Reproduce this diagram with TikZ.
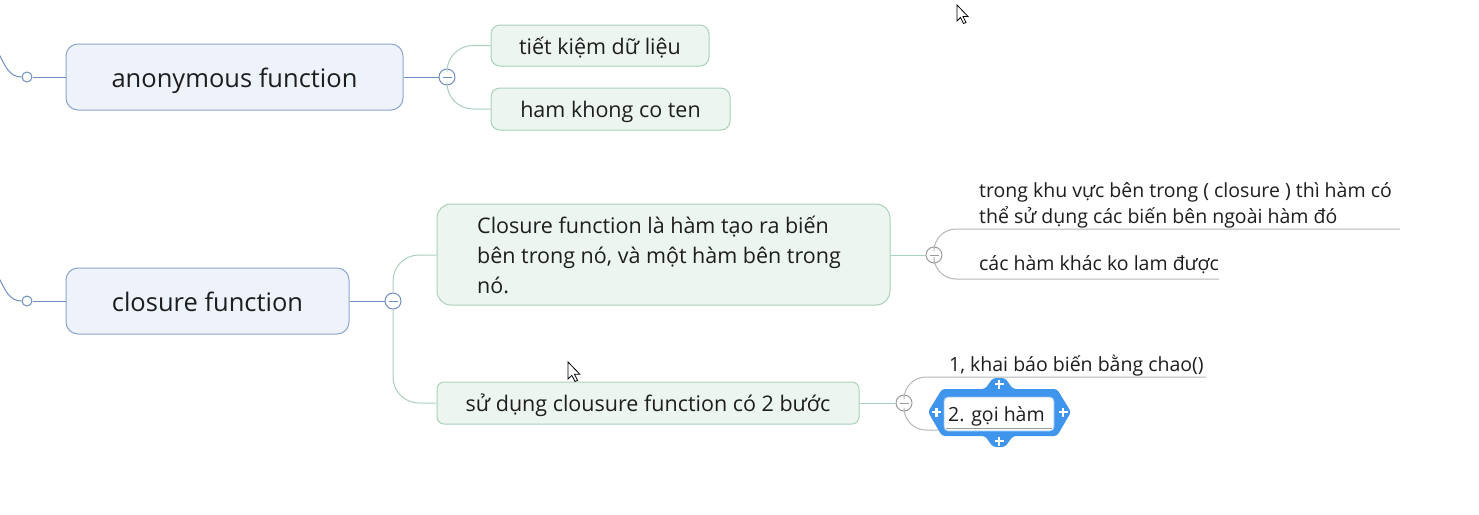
\documentclass[tikz,border=0pt]{standalone}
\usepackage{fontspec}
\setmainfont{Open Sans}
\definecolor{mainB}{HTML}{8EA6CC}
\definecolor{mainF}{HTML}{EEF3FB}
\definecolor{mainL}{HTML}{6F8EC0}
\definecolor{subB}{HTML}{A9D1BB}
\definecolor{subF}{HTML}{ECF5EF}
\definecolor{txt}{HTML}{1E1E1E}
\definecolor{grayL}{HTML}{B4B8B6}
\definecolor{grayU}{HTML}{9A9C9B}
\definecolor{selB}{HTML}{3F95EC}
\begin{document}
\begin{tikzpicture}[x=1pt,y=-1pt,
  mainbox/.style={draw=mainB, fill=mainF, line width=1pt, rounded corners=12pt, inner sep=0pt, text=txt, font=\fontsize{25.5}{30}\selectfont, text height=21.5pt, text depth=0pt},
  subbox/.style={draw=subB, fill=subF, line width=1pt, rounded corners=9pt, inner sep=0pt, text=txt, font=\fontsize{21.5}{26}\selectfont, text height=17.5pt, text depth=0pt},
  plain/.style={inner sep=0pt, text=txt, font=\fontsize{19.5}{26}\selectfont, align=left},
  collapse/.style={circle, draw=#1, fill=white, line width=1pt, minimum size=16pt, inner sep=0pt,
    path picture={\draw[#1, line width=1pt] ([xshift=-4.5pt]path picture bounding box.center) -- ([xshift=4.5pt]path picture bounding box.center);}},
  dot/.style={circle, draw=mainL, fill=white, line width=1pt, minimum size=10pt, inner sep=0pt},
  bluel/.style={draw=mainL, line width=1pt},
  greenl/.style={draw=subB, line width=1pt, rounded corners=26pt},
  grayl/.style={draw=grayL, line width=1pt, rounded corners=22pt},
  cursor/.style={fill=white, draw=black, line width=0.8pt, line join=miter}
]
\useasboundingbox (0,0) rectangle (1479,514);
\fill[white] (0,0) rectangle (1479,514);

% main nodes
\node[mainbox, minimum width=337pt, minimum height=66pt] (anon) at (234.5,77) {anonymous function};
\node[subbox, minimum width=218pt, minimum height=41pt] (tk) at (600,45.5) {tiết kiệm dữ liệu};
\node[subbox, minimum width=239pt, minimum height=42pt] (hk) at (610.5,109) {ham khong co ten};
\node[mainbox, minimum width=283pt, minimum height=66pt] (clo) at (207.5,301) {closure function};
\node[subbox, minimum width=453pt, minimum height=101pt, rounded corners=14pt] (desc) at (663.5,254.5) {};
\node[inner sep=0pt, text=txt, align=left, font=\fontsize{21.5}{30}\selectfont, anchor=west] (desct) at (477,255)
  {Closure function là hàm tạo ra biến\\bên trong nó, và một hàm bên trong\\nó.};
\node[subbox, minimum width=422pt, minimum height=42pt, rounded corners=7pt] (sud) at (648,403) {sử dụng clousure function có 2 bước};

% collapse / dots
\node[dot] (la) at (27,77) {};
\node[dot] (lc) at (27,301) {};
\node[collapse=mainL] (c1) at (447,77) {};
\node[collapse=mainL] (c2) at (393,301) {};
\node[collapse=grayU] (c3) at (934,255) {};
\node[collapse=grayU] (c4) at (904,403) {};

% detail texts
\node[plain, anchor=west] (t1) at (979,205) {trong khu vực bên trong ( closure ) thì hàm có\\thể sử dụng các biến bên ngoài hàm đó};
\node[plain, anchor=base west] (t2) at (979,270) {các hàm khác ko lam được};
\node[plain, anchor=base west] (t3) at (949,371.5) {1, khai báo biến bằng chao()};

\coordinate (pa) at (-1,54);
\coordinate (pc) at (-1,278);
\coordinate (u1) at (1400,229);
\coordinate (u2) at (1219,279);
\coordinate (u3) at (1206,377);
\coordinate (u4) at (1052,430);

% connectors
\draw[bluel] (pa) to[out=-62,in=180] (la.west);
\draw[bluel] (la.east) -- (anon.west);
\draw[bluel] (pc) to[out=-62,in=180] (lc.west);
\draw[bluel] (lc.east) -- (clo.west);
\draw[bluel] (anon.east) -- (c1.west);
\draw[bluel] (clo.east) -- (c2.west);
\draw[greenl] (c1.north) |- (tk.west);
\draw[greenl] (c1.south) |- (hk.west);
\draw[greenl] (c2.north) |- (desc.west |- 0,255);
\draw[greenl] (c2.south) |- (sud.west);
\draw[subB, line width=1pt] (desc.east |- 0,255) -- (c3.west);
\draw[subB, line width=1pt] (sud.east) -- (c4.west);
\draw[grayl] (c3.north) |- (u1);
\draw[grayl] (c3.south) |- (u2);
\draw[grayl] (c4.north) |- (u3);
\draw[grayl] (c4.south) |- (u4);

% selection around "2. gọi hàm"
\fill[selB, rounded corners=3pt] (928,412) -- (942,389) -- (985,389) -- (993,378) -- (1005,378) -- (1013,389)
  -- (1057,389) -- (1071,412) -- (1057,436) -- (1013,436) -- (1005,447) -- (993,447) -- (985,436) -- (942,436) -- cycle;
\filldraw[fill=white, draw=selB!60, line width=0.8pt, rounded corners=4pt] (944,397) rectangle (1054,431);
\draw[grayU, line width=1.5pt] (946,428.5) -- (1052,428.5);
\node[plain, anchor=base west] (t4) at (948,421.5) {2. gọi hàm};
\foreach \px/\py in {999/384, 999/441, 936.5/412, 1063/412}{
  \draw[white, line width=2.4pt] (\px-4.5,\py) -- (\px+4.5,\py) (\px,\py-4.5) -- (\px,\py+4.5);
}

% mouse cursors
\draw[cursor] (957,5) -- (957,21) -- (960.5,17.5) -- (963.5,23.5) -- (966,22.5) -- (963,16.5) -- (968,16.5) -- cycle;
\draw[cursor] (568,362) -- (568,379) -- (571.8,375.3) -- (575,381.5) -- (577.5,380.4) -- (574.5,374.2) -- (579.8,374.2) -- cycle;
\end{tikzpicture}
\end{document}
